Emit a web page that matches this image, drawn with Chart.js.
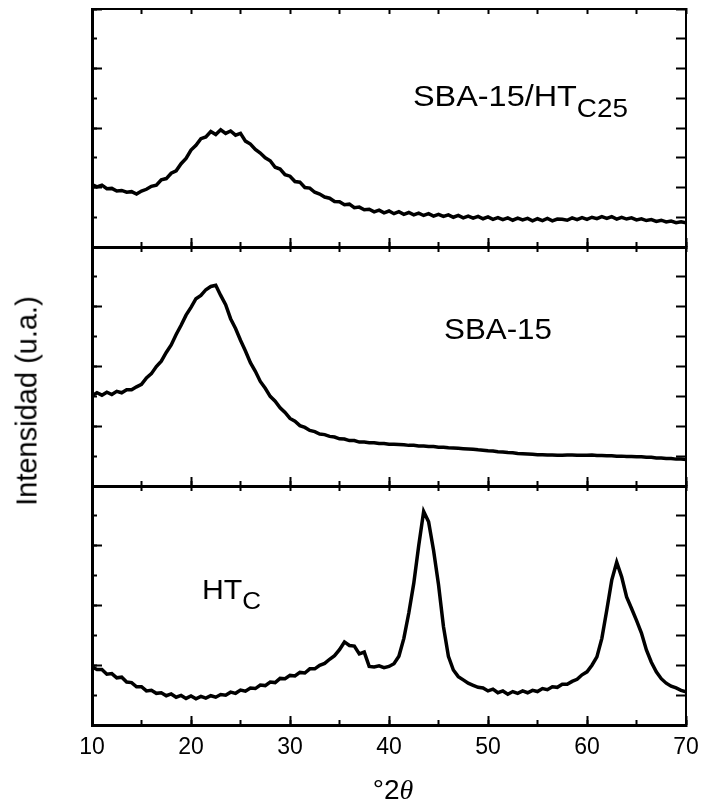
<!DOCTYPE html>
<html>
<head>
<meta charset="utf-8">
<script src="https://cdn.jsdelivr.net/npm/chart.js@4.4.1/dist/chart.umd.min.js"></script>
<style>
  body { margin: 0; background: #fff; }
  #wrap { position: relative; width: 704px; height: 804px; overflow: hidden; font-family: "Liberation Sans", Arial, sans-serif; color: #000; }
  canvas { position: absolute; left: 0; }
  .lbl { position: absolute; white-space: nowrap; line-height: 1; transform-origin: left top; }
  .lbl sub { font-size: 0.86em; vertical-align: -0.42em; line-height: 0; }
</style>
</head>
<body>
<div id="wrap">
  <canvas id="panelTop" width="704" height="260" style="top:0px"></canvas>
  <canvas id="panelMid" width="704" height="260" style="top:240px"></canvas>
  <canvas id="panelBot" width="704" height="324" style="top:480px"></canvas>

  <div class="lbl" style="left:413px; top:81px; font-size:30px; transform: scaleX(1.08);">SBA-15/HT<sub>C25</sub></div>
  <div class="lbl" style="left:444px; top:315px; font-size:29px; transform: scaleX(1.08);">SBA-15</div>
  <div class="lbl" style="left:202px; top:576px; font-size:28px; transform: scaleX(1.08);">HT<sub>C</sub></div>

  <div class="lbl" style="left:27px; top:401px; font-size:29px; transform-origin: center; transform: translate(-50%, -50%) rotate(-90deg);">Intensidad (u.a.)</div>
  <div class="lbl" style="left:393px; top:790px; font-size:28px; transform-origin: center; transform: translate(-50%, -50%);">°2<span style="font-family:'Liberation Serif', serif; font-style:italic;">θ</span></div>
</div>

<script>
// 2theta sampling of the three patterns (degrees)
const twoThetaStart = 10;
const twoThetaStep = 0.5;

// intensities (a.u., 0-8 per panel), one row = 5 degrees
const sbaHtc25 = [
    2.10, 2.02, 2.08, 1.96, 1.97, 1.88, 1.90, 1.84, 1.86, 1.78,
    1.88, 1.94, 2.04, 2.08, 2.26, 2.30, 2.48, 2.56, 2.80, 2.98,
    3.26, 3.42, 3.64, 3.70, 3.88, 3.78, 3.94, 3.82, 3.90, 3.76,
    3.82, 3.56, 3.46, 3.28, 3.16, 3.00, 2.90, 2.68, 2.62, 2.43,
    2.38, 2.20, 2.18, 2.00, 1.98, 1.84, 1.78, 1.68, 1.64, 1.53,
    1.52, 1.42, 1.44, 1.32, 1.34, 1.25, 1.27, 1.18, 1.24, 1.15,
    1.21, 1.12, 1.19, 1.10, 1.16, 1.08, 1.14, 1.06, 1.12, 1.04,
    1.10, 1.03, 1.08, 1.00, 1.06, 0.98, 1.04, 0.97, 1.03, 0.95,
    1.01, 0.93, 0.99, 0.92, 0.98, 0.90, 0.97, 0.91, 0.96, 0.88,
    0.95, 0.89, 0.96, 0.88, 0.94, 0.93, 0.90, 0.98, 0.92, 0.99,
    0.93, 1.00, 0.95, 1.02, 0.96, 1.02, 0.94, 1.00, 0.94, 0.98,
    0.91, 0.95, 0.89, 0.92, 0.86, 0.90, 0.84, 0.87, 0.82, 0.85,
    0.81
];

const sba15 = [
    3.02, 3.12, 3.04, 3.14, 3.06, 3.17, 3.12, 3.22, 3.22, 3.32,
    3.40, 3.62, 3.76, 4.00, 4.18, 4.47, 4.72, 5.07, 5.38, 5.72,
    5.98, 6.27, 6.38, 6.57, 6.68, 6.72, 6.38, 6.07, 5.60, 5.27,
    4.88, 4.52, 4.13, 3.84, 3.50, 3.27, 3.00, 2.84, 2.62, 2.46,
    2.26, 2.17, 2.02, 1.96, 1.86, 1.82, 1.74, 1.72, 1.66, 1.64,
    1.58, 1.57, 1.52, 1.52, 1.47, 1.47, 1.45, 1.45, 1.42, 1.42,
    1.40, 1.40, 1.39, 1.38, 1.36, 1.36, 1.34, 1.34, 1.32, 1.32,
    1.30, 1.30, 1.28, 1.27, 1.26, 1.25, 1.24, 1.23, 1.21, 1.20,
    1.18, 1.17, 1.15, 1.14, 1.12, 1.11, 1.09, 1.08, 1.07, 1.06,
    1.05, 1.05, 1.04, 1.04, 1.03, 1.03, 1.04, 1.04, 1.03, 1.03,
    1.03, 1.04, 1.02, 1.02, 1.01, 1.01, 1.00, 1.00, 0.99, 0.99,
    0.98, 0.98, 0.96, 0.96, 0.94, 0.94, 0.92, 0.92, 0.90, 0.90,
    0.89
];

const htc = [
    1.95, 1.86, 1.86, 1.70, 1.72, 1.58, 1.60, 1.44, 1.42, 1.28,
    1.28, 1.14, 1.16, 1.06, 1.08, 0.98, 1.04, 0.93, 0.99, 0.89,
    0.97, 0.88, 0.96, 0.90, 0.98, 0.93, 1.02, 1.00, 1.10, 1.06,
    1.17, 1.13, 1.24, 1.22, 1.34, 1.32, 1.44, 1.42, 1.56, 1.55,
    1.66, 1.64, 1.76, 1.74, 1.88, 1.88, 2.00, 2.06, 2.20, 2.32,
    2.52, 2.78, 2.66, 2.64, 2.38, 2.44, 1.96, 1.94, 1.98, 1.92,
    1.96, 2.05, 2.30, 2.90, 3.75, 4.74, 6.00, 7.15, 6.80, 5.85,
    4.70, 3.30, 2.30, 1.84, 1.62, 1.51, 1.40, 1.33, 1.26, 1.24,
    1.14, 1.20, 1.08, 1.14, 1.03, 1.12, 1.06, 1.14, 1.08, 1.16,
    1.12, 1.22, 1.18, 1.28, 1.26, 1.36, 1.36, 1.46, 1.53, 1.68,
    1.78, 2.00, 2.28, 2.90, 3.85, 4.85, 5.45, 4.96, 4.29, 3.90,
    3.50, 3.08, 2.51, 2.10, 1.78, 1.55, 1.40, 1.30, 1.24, 1.16,
    1.11
];

const xTicksMajor = [10, 20, 30, 40, 50, 60, 70];

function puntos(valores) {
    return valores.map((v, i) => ({ x: twoThetaStart + i * twoThetaStep, y: v }));
}

function tickGrid(len, width) {
    return { drawOnChartArea: false, drawTicks: true, tickLength: len, tickWidth: width, tickColor: '#000' };
}

// horizontal axes: no side margins so every panel keeps the same plot width
function sinMargen(s, alto) {
    s.height = alto;
    s.paddingLeft = 0;
    s.paddingRight = 0;
}

function crearPanel(id, valores, padding, conEtiquetas) {
    const ctx = document.getElementById(id).getContext('2d');
    return new Chart(ctx, {
        type: 'line',
        data: {
            datasets: [{
                data: puntos(valores),
                borderColor: '#000',
                borderWidth: 3.5,
                pointRadius: 0,
                tension: 0,
                fill: false
            }]
        },
        options: {
            responsive: false,
            animation: false,
            devicePixelRatio: 1,
            layout: { padding: padding },
            plugins: { legend: { display: false }, tooltip: { enabled: false } },
            scales: {
                x: {
                    type: 'linear', position: 'bottom', min: 10, max: 70, weight: 1,
                    afterBuildTicks: s => { s.ticks = xTicksMajor.map(v => ({ value: v })); },
                    ticks: {
                        display: conEtiquetas, padding: 18, color: '#000', maxRotation: 0, autoSkip: false,
                        font: { family: "'Liberation Sans', Arial, sans-serif", size: 23 }
                    },
                    grid: tickGrid(-9, 2),
                    border: { display: true, color: '#000', width: 3 },
                    afterFit: s => sinMargen(s, conEtiquetas ? 79 : 0)
                },
                xMinor: {
                    type: 'linear', position: 'bottom', min: 10, max: 70, weight: 0,
                    ticks: { display: false, stepSize: 5 },
                    grid: tickGrid(-5, 2),
                    border: { display: false },
                    afterFit: s => sinMargen(s, 0)
                },
                xTop: {
                    type: 'linear', position: 'top', min: 10, max: 70,
                    ticks: { display: false, stepSize: 5 },
                    grid: tickGrid(-5, 2),
                    border: { display: true, color: '#000', width: 2 },
                    afterFit: s => sinMargen(s, 0)
                },
                y: {
                    position: 'left', min: 0, max: 8,
                    ticks: { display: false, stepSize: 2 },
                    grid: tickGrid(-10, 2),
                    border: { display: true, color: '#000', width: 3 },
                    afterFit: s => { s.width = 0; }
                },
                yMinor: {
                    position: 'left', min: 0, max: 8,
                    ticks: { display: false, stepSize: 1 },
                    grid: tickGrid(-5, 2),
                    border: { display: false },
                    afterFit: s => { s.width = 0; }
                },
                yRight: {
                    position: 'right', min: 0, max: 8,
                    ticks: { display: false, stepSize: 1 },
                    grid: tickGrid(-10, 2),
                    border: { display: true, color: '#000', width: 2 },
                    afterFit: s => { s.width = 0; }
                }
            }
        }
    });
}

crearPanel('panelTop', sbaHtc25, { top: 9, bottom: 13, left: 92, right: 18 }, false);
crearPanel('panelMid', sba15, { top: 7, bottom: 14, left: 92, right: 18 }, false);
crearPanel('panelBot', htc, { top: 6, bottom: 0, left: 92, right: 18 }, true);
</script>
</body>
</html>
